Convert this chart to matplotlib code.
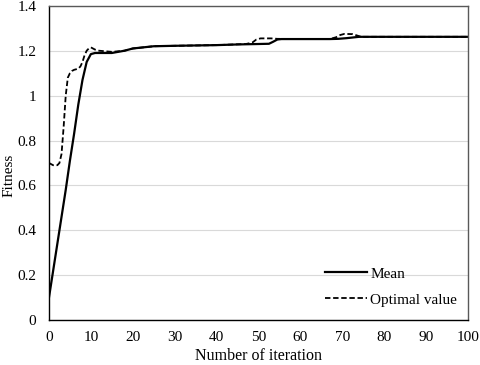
import matplotlib
matplotlib.use('Agg')
from matplotlib import pyplot as plt

# iteration / fitness values
mean_x = [0, 1, 2, 3, 4, 5, 6, 7, 8, 9, 10, 11, 12, 15, 18, 20, 25, 30, 40, 45, 50,
          52.5, 53.5, 54.5, 55.5, 60, 67, 69, 71, 73, 74, 80, 90, 100]
mean_y = [0.10, 0.22, 0.34, 0.46, 0.58, 0.71, 0.83, 0.96, 1.07, 1.15, 1.185, 1.19, 1.19, 1.19, 1.20, 1.21,
          1.22, 1.222, 1.225, 1.228, 1.23,
          1.231, 1.24, 1.25, 1.252, 1.252, 1.252, 1.253, 1.256, 1.26, 1.262, 1.262, 1.262, 1.262]

opt_x = [0, 1, 2, 2.5, 3, 3.5, 4, 4.5, 5, 5.5, 6, 7, 7.5, 8, 8.5, 9, 9.5, 10, 10.5, 11, 12, 15, 18, 20, 25,
         30, 40, 47, 48.5, 49.5, 50.5, 53, 54.5, 60, 67, 68.5, 69.5, 70.5, 72.5, 73.5, 74.5, 80, 90, 100]
opt_y = [0.70, 0.69, 0.69, 0.70, 0.74, 0.86, 1.00, 1.08, 1.10, 1.11, 1.115, 1.12, 1.13, 1.15, 1.18, 1.20, 1.21,
         1.215, 1.21, 1.205, 1.20, 1.195, 1.20, 1.21, 1.22,
         1.222, 1.225, 1.23, 1.236, 1.25, 1.255, 1.255, 1.253, 1.252, 1.252, 1.26, 1.27, 1.275, 1.274, 1.268,
         1.262, 1.262, 1.262, 1.262]

plt.rcParams['font.family'] = 'Liberation Serif'
plt.rcParams['font.size'] = 11

fig = plt.figure(figsize=(4.8, 3.65), dpi=100)
ax = fig.add_axes([0.102, 0.123, 0.873, 0.861])

ax.plot(mean_x, mean_y, color='black', lw=1.6, label='Mean')
ax.plot(opt_x, opt_y, color='black', lw=1.3, ls=(0, (3, 1.5)), label='Optimal value')

ax.set_xlim(0, 100)
ax.set_ylim(0, 1.4)
ax.set_xticks(range(0, 101, 10))
ax.set_yticks([0, 0.2, 0.4, 0.6, 0.8, 1, 1.2, 1.4])
ax.set_yticklabels(['0', '0.2', '0.4', '0.6', '0.8', '1', '1.2', '1.4'])
ax.tick_params(axis='y', length=0, pad=9)
ax.tick_params(axis='x', length=0, pad=8)
ax.grid(axis='y', color='#d9d9d9', lw=0.8)
ax.set_axisbelow(True)

for s in ['left', 'bottom']:
    ax.spines[s].set_color('black')
    ax.spines[s].set_linewidth(1.0)
for s in ['top', 'right']:
    ax.spines[s].set_color('#595959')
    ax.spines[s].set_linewidth(1.0)

ax.set_xlabel('Number of iteration', fontsize=11.5)
ax.set_ylabel('Fitness', fontsize=11)
ax.xaxis.set_label_coords(0.5, -0.09)
ax.yaxis.set_label_coords(-0.079, 0.46)

ax.legend(loc='center left', bbox_to_anchor=(0.659, 0.106), frameon=False, handlelength=2.75,
          handletextpad=0.2, labelspacing=0.8, borderpad=0, borderaxespad=0, fontsize=11)

fig.savefig('out.png', dpi=100)
